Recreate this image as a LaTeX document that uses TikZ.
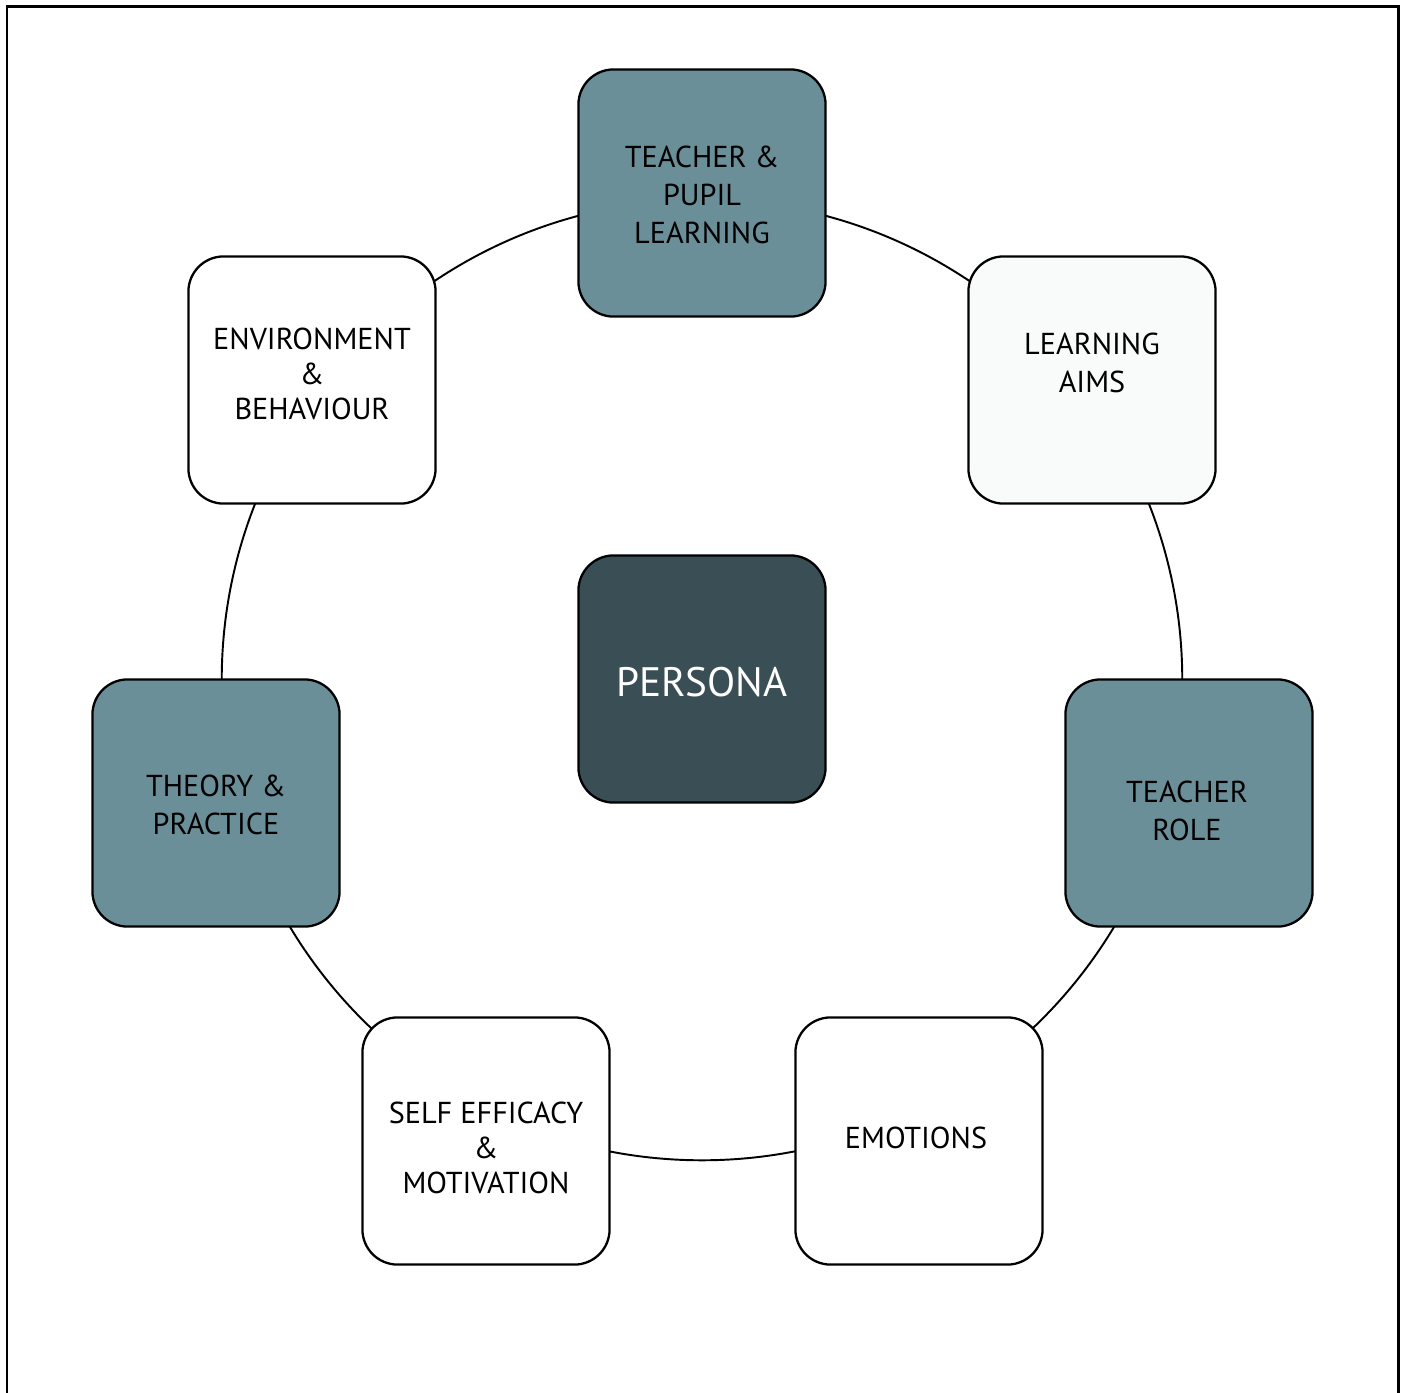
\documentclass[tikz,border=0pt]{standalone}
\usepackage{fontspec}
\setmainfont{PT Sans}
\usetikzlibrary{positioning,calc}
\definecolor{tealbox}{HTML}{6A8F98}
\definecolor{darkbox}{HTML}{3A4F55}
\definecolor{palebox}{HTML}{F9FBFB}
\tikzstyle{rbox}=[rectangle, rounded corners=10pt, draw=black, line width=0.65pt,
                  minimum width=2.47cm, minimum height=2.47cm, inner sep=0pt]
\tikzstyle{txt}=[align=center, inner sep=0pt, font=\fontsize{8.6}{10.8}\selectfont]
\tikzstyle{txtb}=[align=center, inner sep=0pt, font=\fontsize{8.6}{9.96}\selectfont]
\tikzstyle{ring}=[line width=0.55pt]

\begin{document}
\begin{tikzpicture}[x=0.01cm, y=-0.01cm]
\useasboundingbox (0,0) rectangle (1405,1393);
\draw[line width=0.85pt] (7,1393) -- (7,6) -- (1398,6) -- (1398,1393);

% ring behind the boxes
\coordinate (MID) at (702,680);
\draw[ring] (MID) circle [radius=4.8cm];

\node (PERS) [rbox, fill=darkbox] at (702,679) {};
\node [txt, text=white, font=\fontsize{11.7}{14}\selectfont] at ($(PERS)+(0,3)$) {PERSONA};

\node (TPL) [rbox, fill=tealbox] at (702,193) {};
\node [txt] at ($(TPL)+(0,2)$) {TEACHER \&\\PUPIL\\LEARNING};

\node (AIMS) [rbox, fill=palebox] at (1092,380) {};
\node [txt] at ($(AIMS)+(0,-17)$) {LEARNING\\AIMS};

\node (TROLE) [rbox, fill=tealbox] at (1189,803) {};
\node [txt] at ($(TROLE)+(-2,8)$) {TEACHER\\ROLE};

\node (EMO) [rbox, fill=white] at (919,1141) {};
\node [txt] at ($(EMO)+(-3,-3)$) {EMOTIONS};

\node (SELF) [rbox, fill=white] at (486,1141) {};
\node [txtb] at ($(SELF)+(0,7)$) {SELF EFFICACY\\\&\\MOTIVATION};

\node (THPR) [rbox, fill=tealbox] at (216,803) {};
\node [txt] at ($(THPR)+(0,2)$) {THEORY \&\\PRACTICE};

\node (ENV) [rbox, fill=white] at (312,380) {};
\node [txtb] at ($(ENV)+(0,-6)$) {ENVIRONMENT\\\&\\BEHAVIOUR};

\end{tikzpicture}
\end{document}
